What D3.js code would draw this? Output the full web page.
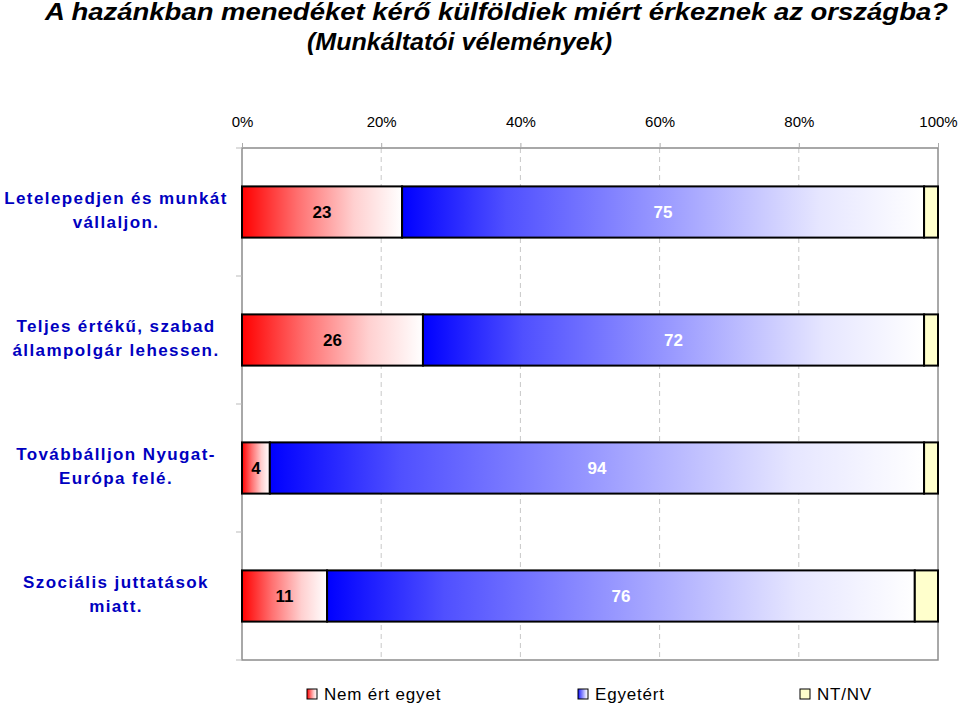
<!DOCTYPE html>
<html><head><meta charset="utf-8">
<script src="https://cdn.jsdelivr.net/npm/d3@7"></script>
<style>body{margin:0;background:#fff}svg{display:block}</style>
</head><body>
<svg id="c" width="960" height="703"></svg>
<script>
const categories = [
  ["Letelepedjen és munkát", "vállaljon."],
  ["Teljes értékű, szabad", "állampolgár lehessen."],
  ["Továbbálljon Nyugat-", "Európa felé."],
  ["Szociális juttatások", "miatt."]
];
const nemErtEgyet = [23, 26, 4, 11];
const egyetert = [75, 72, 94, 76];
const ntnv = [2, 2, 2, 3];
const seriesNames = ["Nem ért egyet", "Egyetért", "NT/NV"];
const tickValues = [0, 0.2, 0.4, 0.6, 0.8, 1];

const FONT = "Liberation Sans, Arial, sans-serif";
const svg = d3.select("#c");
const defs = svg.append("defs");
function grad(id, stops) {
  const g = defs.append("linearGradient").attr("id", id).attr("x1", "0").attr("x2", "1").attr("y1", "0").attr("y2", "0");
  stops.forEach(s => g.append("stop").attr("offset", s[0]).attr("stop-color", s[1]));
}
grad("gRed", [[0, "#ff0000"], [0.35, "#ff7070"], [0.7, "#ffd0d0"], [1, "#ffffff"]]);
grad("gBlue", [[0, "#0000ff"], [0.2, "#5050ff"], [0.5, "#9a9aff"], [0.8, "#e6e6ff"], [1, "#ffffff"]]);
grad("gYel", [[0, "#ffffcc"], [1, "#ffffcc"]]);
const fills = ["url(#gRed)", "url(#gBlue)", "url(#gYel)"];

const data = categories.map((c, i) => ({ key: i, a: nemErtEgyet[i], b: egyetert[i], c: ntnv[i] }));
const stack = d3.stack().keys(["a", "b", "c"]).offset(d3.stackOffsetExpand);
const series = stack(data);

const x = d3.scaleLinear().domain([0, 1]).range([242, 938]);
const y = d3.scaleBand().domain(d3.range(categories.length)).range([148, 660]).paddingInner(0.6).paddingOuter(0.3);

// title
const title = svg.append("g").attr("font-family", FONT).attr("font-weight", "bold").attr("font-style", "italic").attr("font-size", 23).attr("fill", "#000");
title.append("text").attr("x", 45).attr("y", 20).attr("textLength", 903).attr("lengthAdjust", "spacingAndGlyphs").text("A hazánkban menedéket kérő külföldiek miért érkeznek az országba?");
title.append("text").attr("x", 307).attr("y", 50).attr("textLength", 305).attr("lengthAdjust", "spacingAndGlyphs").text("(Munkáltatói vélemények)");

// gridlines
svg.append("g").selectAll("line").data(tickValues.slice(1, -1)).join("line")
  .attr("x1", d => x(d)).attr("x2", d => x(d)).attr("y1", 148).attr("y2", 660)
  .attr("stroke", "#c8c8c8").attr("stroke-dasharray", "5,4").attr("stroke-width", 1);

// frame
svg.append("rect").attr("x", 242).attr("y", 148).attr("width", 696).attr("height", 512)
  .attr("fill", "none").attr("stroke", "#8c8c8c").attr("stroke-width", 1.5);

// top axis
const xAxis = d3.axisTop(x).tickValues(tickValues).tickFormat(d3.format(".0%")).tickSize(5).tickPadding(16);
const gx = svg.append("g").attr("transform", "translate(0,148)").call(xAxis);
gx.select(".domain").remove();
gx.selectAll(".tick line").attr("stroke", "#aaa");
gx.selectAll("text").attr("font-family", FONT).attr("font-size", 15).attr("fill", "#000");

// left ticks at band boundaries
const bounds = d3.range(categories.length + 1).map(i => 148 + i * y.step());
svg.append("g").selectAll("line").data(bounds).join("line")
  .attr("x1", 236).attr("x2", 242).attr("y1", d => d).attr("y2", d => d).attr("stroke", "#bbb");

// bars
const gs = svg.append("g").selectAll("g").data(series).join("g").attr("fill", (d, i) => fills[i]);
gs.selectAll("rect").data(d => d).join("rect")
  .attr("x", d => x(d[0])).attr("width", d => x(d[1]) - x(d[0]))
  .attr("y", (d, i) => y(i)).attr("height", y.bandwidth())
  .attr("stroke", "#000").attr("stroke-width", 2);

// value labels
const labelColors = ["#000", "#fff"];
const rawVals = [nemErtEgyet, egyetert];
[0, 1].forEach(si => {
  svg.append("g").selectAll("text").data(series[si]).join("text")
    .attr("x", d => (x(d[0]) + x(d[1])) / 2)
    .attr("y", (d, i) => y(i) + y.bandwidth() / 2 + 6)
    .attr("text-anchor", "middle")
    .attr("font-family", FONT)
    .attr("font-weight", "bold").attr("font-size", 17).attr("fill", labelColors[si])
    .text((d, i) => rawVals[si][i]);
});

// category labels
const cl = svg.append("g").attr("font-family", FONT).attr("font-weight", "bold").attr("font-size", 17)
  .attr("letter-spacing", 1.4).attr("fill", "#0000c0").attr("text-anchor", "middle");
categories.forEach((lines, i) => {
  const cy = y(i) + y.bandwidth() / 2;
  lines.forEach((t, j) => {
    cl.append("text").attr("x", 116).attr("y", cy - 8 + j * 24).text(t);
  });
});

// legend
const legX = [307, 578, 800];
const lg = svg.append("g");
seriesNames.forEach((n, i) => {
  lg.append("rect").attr("x", legX[i]).attr("y", 689).attr("width", 10).attr("height", 10)
    .attr("fill", fills[i]).attr("stroke", "#000").attr("stroke-width", 1);
  lg.append("text").attr("x", legX[i] + 17).attr("y", 700).attr("letter-spacing", 0.8)
    .attr("font-family", FONT).attr("font-size", 17).attr("fill", "#000").text(n);
});
</script>
</body></html>
